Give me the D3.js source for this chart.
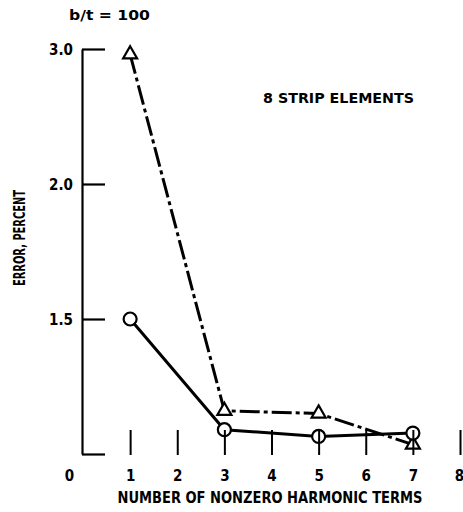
<!DOCTYPE html>
<html>
<head>
<meta charset="utf-8">
<script src="https://cdn.jsdelivr.net/npm/d3@7"></script>
<style>
  body { margin: 0; background: #fff; }
  svg text { font-family: "DejaVu Sans Condensed", "DejaVu Sans", sans-serif; font-weight: bold; fill: #000; }
</style>
</head>
<body>
<svg id="chart" width="463" height="512"></svg>
<script>
// harmonic terms on the x axis, error on the y axis
const harmonicTerms = [1, 3, 5, 7];
const errorCircles = [1.0, 0.18, 0.13, 0.155];
const errorTriangles = [2.96, 0.32, 0.30, 0.07];

const xTickValues = [0, 1, 2, 3, 4, 5, 6, 7, 8];
const xTickLabels = ["0", "1", "2", "3", "4", "5", "6", "7", "8"];
const yTickValues = [0, 1, 2, 3];
const yTickLabels = ["", "1.5", "2.0", "3.0"];

const svg = d3.select("#chart");

let x = d3.scaleLinear()
          .domain([0, 8])
          .range([83, 460]);

let y = d3.scaleLinear()
          .domain([0, 3])
          .range([454, 49]);

// series built from the arrays
const circleSeries = harmonicTerms.map((t, i) => [t, errorCircles[i]]);
const triangleSeries = harmonicTerms.map((t, i) => [t, errorTriangles[i]]);

let line = d3.line()
             .x((d) => x(d[0]))
             .y((d) => y(d[1]));

// y-Axis: ticks point into the plot, labels on the left
let yAxis = d3.axisLeft(y)
              .tickValues(yTickValues)
              .tickSizeInner(-23)
              .tickSizeOuter(0)
              .tickPadding(9)
              .tickFormat((d, i) => yTickLabels[i]);

let yG = svg.append("g")
            .attr("class", "y-axis")
            .attr("transform", "translate(82,0)")
            .call(yAxis);
yG.selectAll("path, line").attr("stroke", "#000").attr("stroke-width", 2.2);
yG.selectAll("text").style("font-size", "15px").attr("dy", "0.35em");

// y label
svg.append("text")
   .attr("transform", "translate(25,238) rotate(-90)")
   .attr("text-anchor", "middle")
   .attr("textLength", 96)
   .attr("lengthAdjust", "spacingAndGlyphs")
   .style("font-size", "16px")
   .text("ERROR, PERCENT");

// dash-dot line with triangles
svg.append("path")
   .datum(triangleSeries)
   .attr("d", line)
   .attr("fill", "none")
   .attr("stroke", "#000")
   .attr("stroke-width", 3)
   .attr("stroke-dasharray", "20,4,4,4");

// solid line with circles
svg.append("path")
   .datum(circleSeries)
   .attr("d", line)
   .attr("fill", "none")
   .attr("stroke", "#000")
   .attr("stroke-width", 3);

svg.selectAll(".tri")
   .data(triangleSeries)
   .enter().append("path")
   .attr("class", "tri")
   .attr("transform", (d) => "translate(" + x(d[0]) + "," + y(d[1]) + ")")
   .attr("d", d3.symbol(d3.symbolTriangle, 85))
   .attr("fill", "#fff")
   .attr("stroke", "#000")
   .attr("stroke-width", 2.2);

svg.selectAll(".circ")
   .data(circleSeries)
   .enter().append("circle")
   .attr("class", "circ")
   .attr("cx", (d) => x(d[0]))
   .attr("cy", (d) => y(d[1]))
   .attr("r", 6.5)
   .attr("fill", "#fff")
   .attr("stroke", "#000")
   .attr("stroke-width", 2.2);

// x-Axis: no base line, short upward ticks
let xAxis = d3.axisBottom(x)
              .tickValues(xTickValues)
              .tickSizeInner(-25)
              .tickSizeOuter(0)
              .tickPadding(15)
              .tickFormat((d, i) => xTickLabels[i]);

let xG = svg.append("g")
            .attr("class", "x-axis")
            .attr("transform", "translate(0,455)")
            .call(xAxis);
xG.select(".domain").remove();
xG.selectAll("line").attr("stroke", "#000").attr("stroke-width", 2);
xG.selectAll(".tick").filter((d) => d === 0).select("line").remove();
xG.selectAll(".tick").filter((d) => d === 0).select("text").attr("x", -14);
xG.selectAll(".tick").filter((d) => d === 8).select("text").attr("x", -1);
xG.selectAll("text").style("font-size", "15px");

svg.append("text")
   .attr("x", 270)
   .attr("y", 503)
   .attr("text-anchor", "middle")
   .attr("textLength", 305)
   .attr("lengthAdjust", "spacingAndGlyphs")
   .style("font-size", "16px")
   .text("NUMBER OF NONZERO HARMONIC TERMS");

// annotations
svg.append("text")
   .attr("x", 69)
   .attr("y", 20)
   .attr("textLength", 81)
   .attr("lengthAdjust", "spacingAndGlyphs")
   .style("font-size", "14px")
   .text("b/t = 100");

svg.append("text")
   .attr("x", 263)
   .attr("y", 103)
   .attr("textLength", 151)
   .attr("lengthAdjust", "spacingAndGlyphs")
   .style("font-size", "14.5px")
   .text("8 STRIP ELEMENTS");
</script>
</body>
</html>
